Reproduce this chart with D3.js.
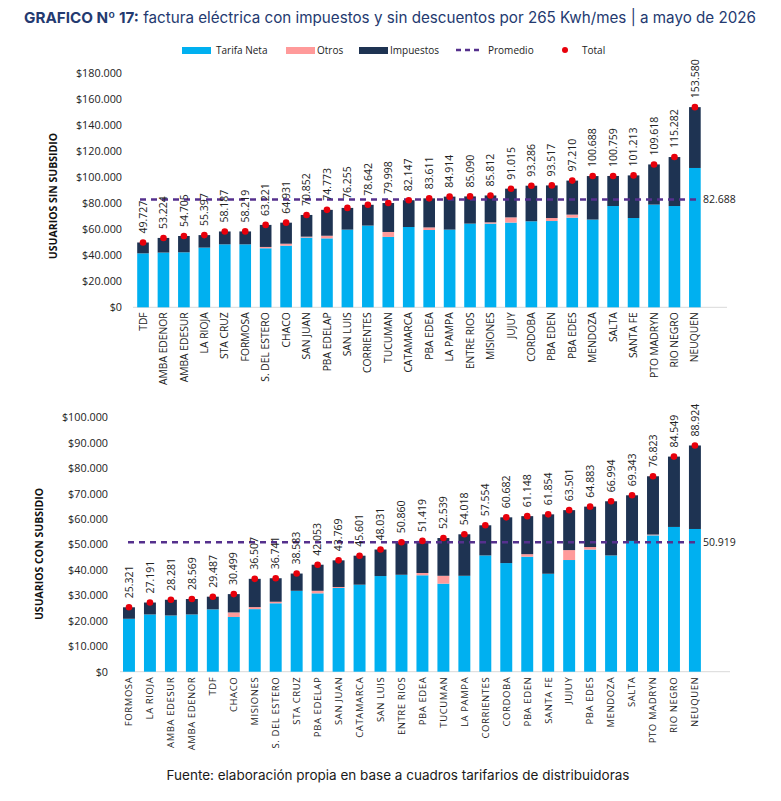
<!DOCTYPE html>
<html>
<head>
<meta charset="utf-8">
<script src="https://cdn.jsdelivr.net/npm/d3@7"></script>
<style>
  body { margin: 0; background: #fff; }
  svg text { font-family: "Open Sans", sans-serif; }
</style>
</head>
<body>
<script>
// panel 1: usuarios sin subsidio
const cats1 = ["TDF","AMBA EDENOR","AMBA EDESUR","LA RIOJA","STA CRUZ","FORMOSA","S. DEL ESTERO","CHACO","SAN JUAN","PBA EDELAP","SAN LUIS","CORRIENTES","TUCUMAN","CATAMARCA","PBA EDEA","LA PAMPA","ENTRE RIOS","MISIONES","JUJUY","CORDOBA","PBA EDEN","PBA EDES","MENDOZA","SALTA","SANTA FE","PTO MADRYN","RIO NEGRO","NEUQUEN"];
const tarifa1 = [41400,42000,42200,45800,48300,48300,45300,47300,53500,52900,59600,62700,54000,61600,59300,59600,64200,64200,65000,66000,66200,68800,67300,77700,68500,78800,77700,106900];
const otros1 = [0,0,0,0,0,0,1000,1500,700,2000,0,0,3800,0,2000,0,0,1000,4000,0,2300,2300,0,0,0,0,0,0];
const impuestos1 = [8327,11224,12505,9597,9887,9919,16921,16131,16652,19873,16655,15942,22198,20547,22311,25314,20890,20612,22015,27286,25017,26110,33388,23059,32713,30818,37582,46680];
const total1 = [49727,53224,54705,55397,58187,58219,63221,64931,70852,74773,76255,78642,79998,82147,83611,84914,85090,85812,91015,93286,93517,97210,100688,100759,101213,109618,115282,153580];
const promedio1 = 82688;
const ticks1 = [0,20000,40000,60000,80000,100000,120000,140000,160000,180000];

// panel 2: usuarios con subsidio
const cats2 = ["FORMOSA","LA RIOJA","AMBA EDESUR","AMBA EDENOR","TDF","CHACO","MISIONES","S. DEL ESTERO","STA CRUZ","PBA EDELAP","SAN JUAN","CATAMARCA","SAN LUIS","ENTRE RIOS","PBA EDEA","TUCUMAN","LA PAMPA","CORRIENTES","CORDOBA","PBA EDEN","SANTA FE","JUJUY","PBA EDES","MENDOZA","SALTA","PTO MADRYN","RIO NEGRO","NEUQUEN"];
const tarifa2 = [20800,22500,22100,22500,24500,21500,24600,26900,31800,30800,32900,34200,37600,38100,37900,34600,37700,45700,42700,45200,38500,43900,48000,45700,51400,53600,56900,56100];
const otros2 = [0,0,0,0,0,1800,800,600,0,1000,400,0,0,0,900,3100,0,0,0,1000,0,3900,1000,0,0,300,0,0];
const impuestos2 = [4521,4691,6181,6069,4987,7199,11107,9241,6783,10253,10469,11401,10431,12760,12619,14839,16318,11854,17982,14948,23354,15701,15883,21294,17943,22923,27649,32824];
const total2 = [25321,27191,28281,28569,29487,30499,36507,36741,38583,42053,43769,45601,48031,50860,51419,52539,54018,57554,60682,61148,61854,63501,64883,66994,69343,76823,84549,88924];
const promedio2 = 50919;
const ticks2 = [0,10000,20000,30000,40000,50000,60000,70000,80000,90000,100000];

const seriesNames = ["Tarifa Neta","Otros","Impuestos"];
const colors = { "Tarifa Neta": "#00b0f0", "Otros": "#ff9a9a", "Impuestos": "#1e3352" };
const promColor = "#55308d";

const loc = d3.formatLocale({ decimal: ",", thousands: ".", grouping: [3], currency: ["$", ""] });
const fmtMoney = loc.format("$,");
const fmtNum = loc.format(",");

const W = 781, H = 801;
const svg = d3.select("body").append("svg").attr("width", W).attr("height", H);

// title
const title = svg.append("text").attr("x", 390).attr("y", 23)
  .attr("text-anchor", "middle")
  .style("font-family", "Inter, sans-serif")
  .style("font-size", "15.2px")
  .style("fill", "#243a70");
title.append("tspan").style("font-weight", "700").text("GRAFICO Nº 17:");
title.append("tspan").text(" factura eléctrica con impuestos y sin descuentos por 265 Kwh/mes | a mayo de 2026");

// legend
const lg = svg.append("g").attr("transform", "translate(0,50)");
const lgX = [182, 286, 359];
seriesNames.forEach((s, i) => {
  lg.append("rect").attr("x", lgX[i]).attr("y", -3).attr("width", 29).attr("height", 7).style("fill", colors[s]);
  lg.append("text").attr("x", lgX[i] + (i == 0 ? 34 : 31)).attr("y", 0).attr("dy", "0.35em")
    .style("font-size", "10px").style("fill", "#222").text(s);
});
lg.append("line").attr("x1", 456).attr("x2", 483).attr("y1", 0).attr("y2", 0)
  .style("stroke", promColor).style("stroke-width", 2.5).style("stroke-dasharray", "5,4");
lg.append("text").attr("x", 488).attr("y", 0).attr("dy", "0.35em").style("font-size", "10px").style("fill", "#222").text("Promedio");
lg.append("circle").attr("cx", 565).attr("cy", 0).attr("r", 3).style("fill", "#e8000b");
lg.append("text").attr("x", 582).attr("y", 0).attr("dy", "0.35em").style("font-size", "10px").style("fill", "#222").text("Total");

function drawPanel(p) {
  const rows = p.cats.map((c, i) => ({ cat: c, "Tarifa Neta": p.tarifa[i], "Otros": p.otros[i], "Impuestos": p.imp[i], total: p.total[i] }));
  const stack = d3.stack().keys(seriesNames)(rows);

  const x = d3.scaleBand().domain(p.cats).range(p.xr).paddingInner(0.43).paddingOuter(0.215);
  const y = d3.scaleLinear().domain([0, p.ymax]).range(p.yr);
  const g = svg.append("g");

  // y ticks (no gridlines)
  const yAxis = d3.axisLeft(y).tickValues(p.ticks).tickFormat(fmtMoney).tickSize(0).tickPadding(0);
  g.append("g").attr("transform", "translate(" + p.tickX + ",0)").call(yAxis)
    .call(a => a.select(".domain").remove())
    .selectAll("text").style("font-family", "'Open Sans', sans-serif").style("font-size", "10.8px").style("fill", "#222");

  // baseline
  g.append("line").attr("x1", p.base[0]).attr("x2", p.base[1]).attr("y1", y(0)).attr("y2", y(0))
    .style("stroke", "#d9d9d9").style("stroke-width", 1);

  // stacked bars
  g.selectAll("g.layer").data(stack).enter().append("g").attr("class", "layer")
    .style("fill", d => colors[d.key])
    .selectAll("rect").data(d => d).enter().append("rect")
    .attr("x", d => x(d.data.cat))
    .attr("width", x.bandwidth())
    .attr("y", d => y(d[1]))
    .attr("height", d => y(d[0]) - y(d[1]));

  // x labels
  const xAxis = d3.axisBottom(x).tickSize(0).tickPadding(0);
  g.append("g").attr("transform", "translate(0," + y(0) + ")").call(xAxis)
    .call(a => a.select(".domain").remove())
    .selectAll("text")
    .attr("transform", "rotate(-90)")
    .attr("x", -5).attr("y", 0).attr("dy", "0.35em")
    .style("text-anchor", "end")
    .style("font-family", p.xFont)
    .style("letter-spacing", p.xSpacing)
    .style("font-size", p.xSize)
    .style("fill", "#222");

  // average line
  g.append("line").attr("x1", p.avgX[0]).attr("x2", p.avgX[1]).attr("y1", y(p.prom)).attr("y2", y(p.prom))
    .style("stroke", promColor).style("stroke-width", 2.5).style("stroke-dasharray", "6,5");
  g.append("text").attr("x", p.avgX[1] + 6).attr("y", y(p.prom)).attr("dy", "0.35em")
    .style("font-size", "10.5px").style("fill", "#222").text(fmtNum(p.prom));

  // total dots
  g.selectAll("circle.tot").data(rows).enter().append("circle").attr("class", "tot")
    .attr("cx", d => x(d.cat) + x.bandwidth() / 2)
    .attr("cy", d => y(d.total))
    .attr("r", 3.3)
    .style("fill", "#e8000b");

  // value labels
  g.selectAll("text.val").data(rows).enter().append("text").attr("class", "val")
    .attr("transform", d => "translate(" + (x(d.cat) + x.bandwidth() / 2) + "," + (y(d.total) - 9) + ") rotate(-90)")
    .attr("dy", "0.35em")
    .style("font-size", "10.5px").style("fill", "#222")
    .text(d => fmtNum(d.total));

  // y title
  g.append("text")
    .attr("transform", "translate(" + p.titleX + "," + p.titleY + ") rotate(-90)")
    .attr("text-anchor", "middle")
    .style("font-size", "10.5px").style("font-weight", "700").style("fill", "#111")
    .text(p.ytitle);
}

drawPanel({
  cats: cats1, tarifa: tarifa1, otros: otros1, imp: impuestos1, total: total1, prom: promedio1, ticks: ticks1,
  ymax: 180000, yr: [307.3, 72.7], xr: [132.8, 705.1], base: [133, 727], avgX: [140, 697],
  tickX: 122, titleX: 57, titleY: 196, ytitle: "USUARIOS SIN SUBSIDIO",
  xFont: "'Open Sans', sans-serif", xSpacing: "0px", xSize: "10.3px"
});

drawPanel({
  cats: cats2, tarifa: tarifa2, otros: otros2, imp: impuestos2, total: total2, prom: promedio2, ticks: ticks2,
  ymax: 100000, yr: [671.7, 417.3], xr: [118.5, 705.4], base: [120, 730], avgX: [128, 697],
  tickX: 108, titleX: 43, titleY: 554, ytitle: "USUARIOS CON SUBSIDIO",
  xFont: "'Open Sans', sans-serif", xSpacing: "0.6px", xSize: "9.5px"
});

// footer
svg.append("text").attr("x", 398).attr("y", 780).attr("text-anchor", "middle")
  .style("font-family", "Inter, sans-serif").style("font-size", "13.5px").style("fill", "#1a1a1a")
  .text("Fuente: elaboración propia en base a cuadros tarifarios de distribuidoras");
</script>
</body>
</html>
